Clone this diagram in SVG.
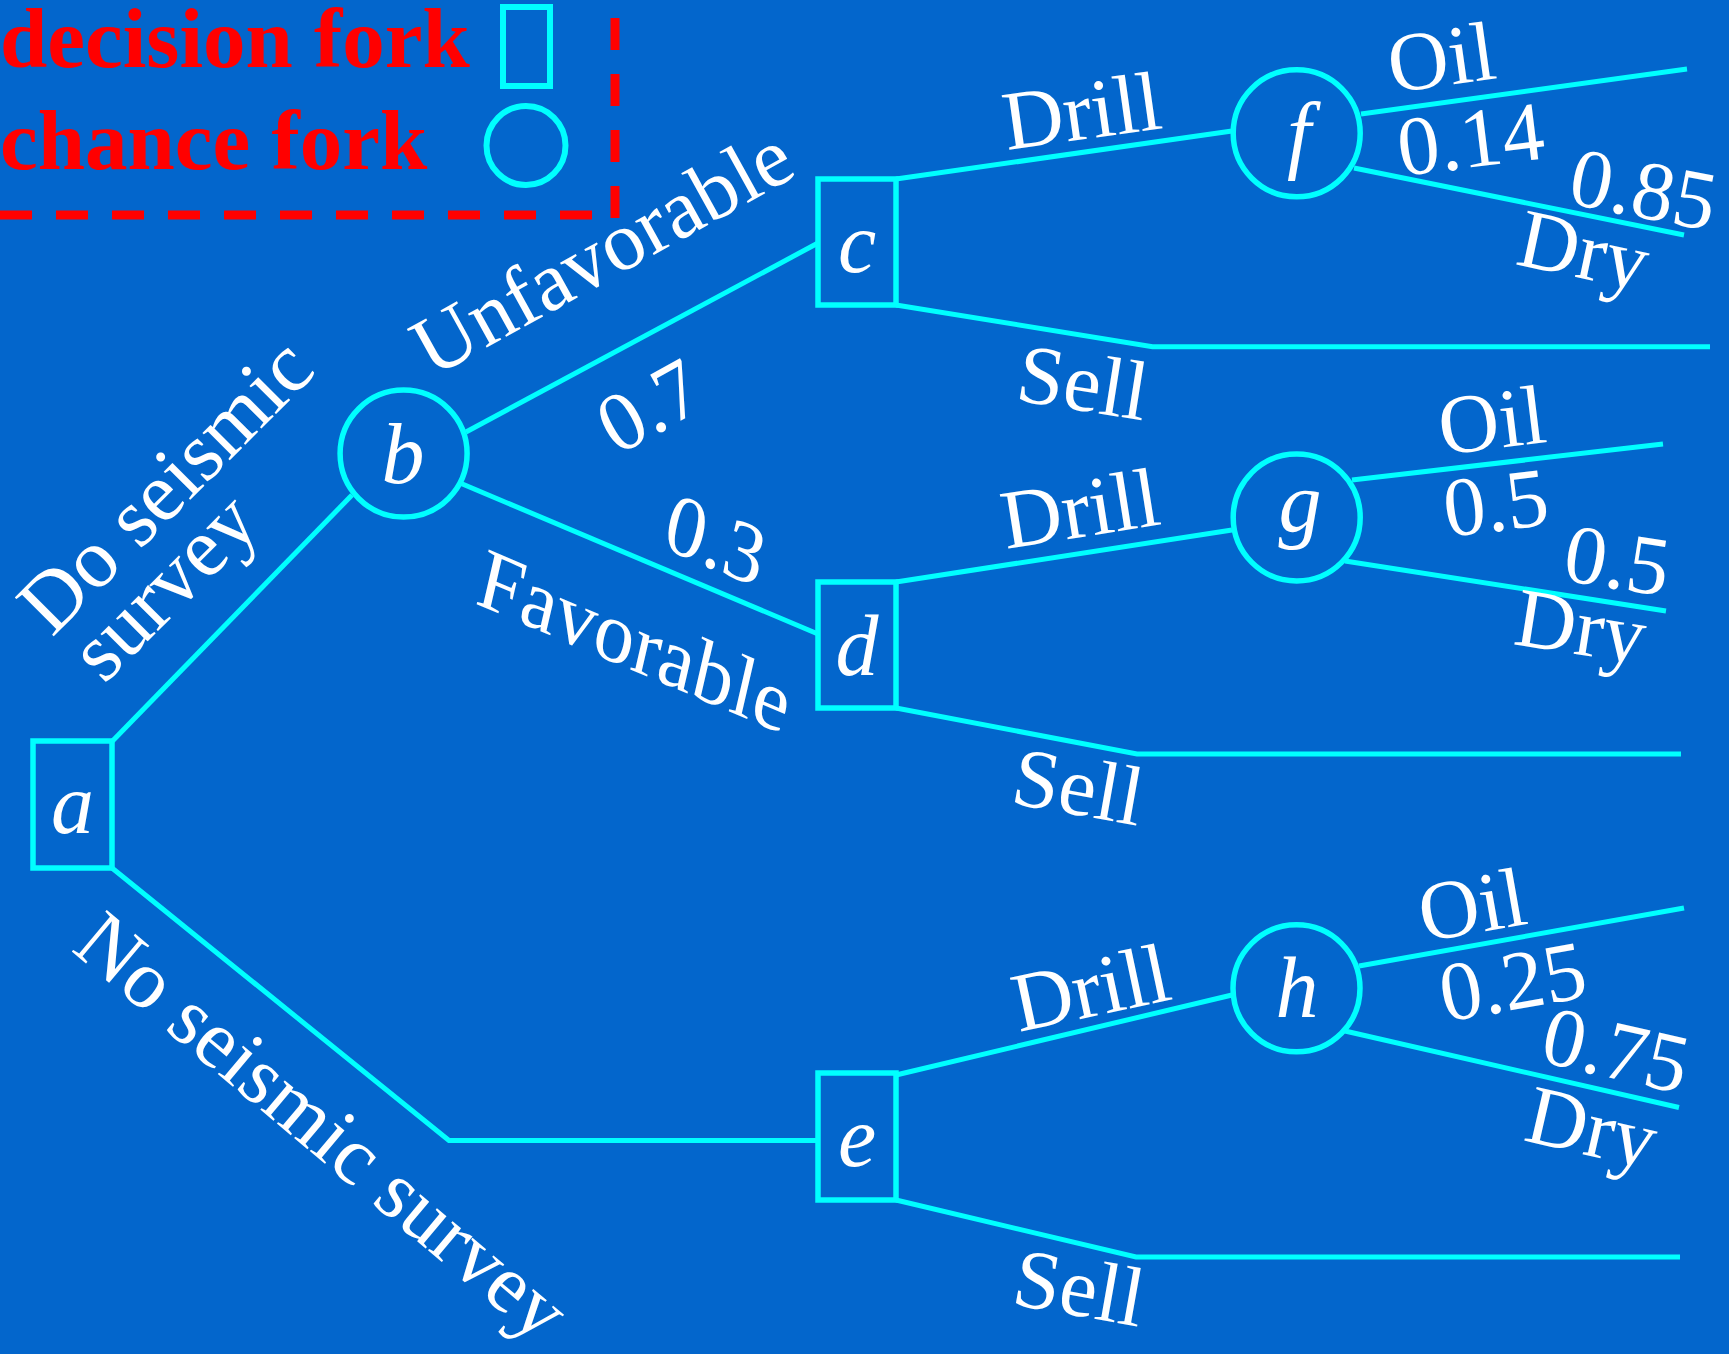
<svg xmlns="http://www.w3.org/2000/svg" width="1729" height="1354" viewBox="0 0 1729 1354">
  <style>
    .node { fill: none; stroke: #00FFFF; stroke-width: 5.5; }
    .edge { fill: none; stroke: #00FFFF; stroke-width: 5; stroke-linejoin: miter; }
    .lbl { font-family: "Liberation Serif", "Times New Roman", serif; font-size: 84px; fill: #FFFFFF; }
    .nid { font-family: "Liberation Serif", "Times New Roman", serif; font-size: 86px; font-style: italic; fill: #FFFFFF; text-anchor: middle; }
    .key { font-family: "Liberation Serif", "Times New Roman", serif; font-size: 85px; font-weight: bold; fill: #FF0000; }
    .frame { fill: none; stroke: #FF0000; stroke-width: 9; stroke-dasharray: 32 24; }
  </style>

  <!-- background -->
  <rect x="0" y="0" width="1729" height="1354" fill="#0366CC"/>

  <!-- legend -->
  <g id="legend">
    <text class="key" x="0" y="67">decision fork</text>
    <text class="key" x="0" y="169">chance fork</text>
    <rect class="node" x="503" y="7" width="47" height="79" style="stroke-width:6"/>
    <circle class="node" cx="526" cy="145.5" r="39.5" style="stroke-width:6"/>
    <line class="frame" x1="0" y1="215" x2="615" y2="215"/>
    <line class="frame" x1="615" y1="218" x2="615" y2="0"/>
  </g>

  <!-- connectors -->
  <g id="connectors">
    <polyline class="edge" points="112.5,741 352,495"/>
    <polyline class="edge" points="112,868 449,1140.5 818,1140.5"/>
    <polyline class="edge" points="466,432 818,243"/>
    <polyline class="edge" points="460,483 818,634"/>
    <polyline class="edge" points="896,179 1232,131"/>
    <polyline class="edge" points="896,305 1152.5,346.7 1710,346.7"/>
    <polyline class="edge" points="896,582 1232,530"/>
    <polyline class="edge" points="896,708 1137,754 1681,754"/>
    <polyline class="edge" points="896,1075 1232,995"/>
    <polyline class="edge" points="896,1200 1136,1257 1680,1257"/>
    <polyline class="edge" points="1361,114 1687,69"/>
    <polyline class="edge" points="1354,168 1684,235"/>
    <polyline class="edge" points="1352,480 1663,444"/>
    <polyline class="edge" points="1345,561 1666,611"/>
    <polyline class="edge" points="1359,966 1684,908"/>
    <polyline class="edge" points="1345,1031 1679,1107.5"/>
  </g>

  <!-- edge labels -->
  <g id="edge-labels">
    <text class="lbl" transform="translate(52,638) rotate(-45)">Do seismic</text>
    <text class="lbl" transform="translate(104,685) rotate(-45)">survey</text>
    <text class="lbl" transform="translate(70,950) rotate(40)" style="font-size:83px">No seismic survey</text>
    <text class="lbl" transform="translate(432,378) rotate(-29)">Unfavorable</text>
    <text class="lbl" transform="translate(617,456) rotate(-29)">0.7</text>
    <text class="lbl" transform="translate(661,547) rotate(23) skewX(10)">0.3</text>
    <text class="lbl" transform="translate(474,603) rotate(23) skewX(10)">Favorable</text>

    <text class="lbl" transform="translate(1007,150) rotate(-8)">Drill</text>
    <text class="lbl" transform="translate(1014,400) rotate(9)">Sell</text>
    <text class="lbl" transform="translate(1392,93) rotate(-8)">Oil</text>
    <text class="lbl" transform="translate(1401,176) rotate(-7)">0.14</text>
    <text class="lbl" transform="translate(1566,203) rotate(11)">0.85</text>
    <text class="lbl" transform="translate(1514,264) rotate(12)">Dry</text>

    <text class="lbl" transform="translate(1006,549) rotate(-9)">Drill</text>
    <text class="lbl" transform="translate(1009,803) rotate(10)">Sell</text>
    <text class="lbl" transform="translate(1442,455) rotate(-7)">Oil</text>
    <text class="lbl" transform="translate(1447,537) rotate(-7)">0.5</text>
    <text class="lbl" transform="translate(1561,580) rotate(9)">0.5</text>
    <text class="lbl" transform="translate(1512,644) rotate(9)">Dry</text>

    <text class="lbl" transform="translate(1019,1032) rotate(-12)">Drill</text>
    <text class="lbl" transform="translate(1010,1304) rotate(10)">Sell</text>
    <text class="lbl" transform="translate(1424,942) rotate(-10)">Oil</text>
    <text class="lbl" transform="translate(1445,1022) rotate(-10)">0.25</text>
    <text class="lbl" transform="translate(1538,1061) rotate(13)">0.75</text>
    <text class="lbl" transform="translate(1522,1140) rotate(13)">Dry</text>
  </g>

  <!-- decision forks -->
  <g id="node-a"><rect class="node" x="33" y="741" width="79" height="127"/><text class="nid" x="72.5" y="833">a</text></g>
  <g id="node-c"><rect class="node" x="818" y="179" width="78" height="126"/><text class="nid" x="857" y="272">c</text></g>
  <g id="node-d"><rect class="node" x="818" y="582" width="78" height="126"/><text class="nid" x="857" y="675">d</text></g>
  <g id="node-e"><rect class="node" x="818" y="1073" width="78" height="127"/><text class="nid" x="857" y="1166">e</text></g>

  <!-- chance forks -->
  <g id="node-b"><circle class="node" cx="403.6" cy="453.6" r="63.5"/><text class="nid" x="403" y="483">b</text></g>
  <g id="node-f"><circle class="node" cx="1296.7" cy="133.3" r="63.5"/><text class="nid" x="1299" y="162">f</text></g>
  <g id="node-g"><circle class="node" cx="1296.7" cy="517.5" r="63.5"/><text class="nid" x="1300" y="531">g</text></g>
  <g id="node-h"><circle class="node" cx="1296.5" cy="988.3" r="63.5"/><text class="nid" x="1297" y="1017">h</text></g>
</svg>
